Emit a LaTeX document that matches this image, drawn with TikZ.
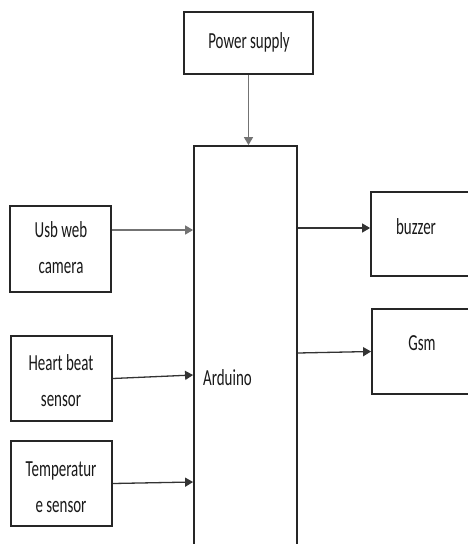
\documentclass[tikz,border=0pt]{standalone}
\usepackage{fontspec}
\newfontfamily\diagfont[FakeStretch=0.65]{Carlito}
\usetikzlibrary{arrows.meta}
\begin{document}
\begin{tikzpicture}[x=1pt,y=-1pt,
  box/.style={draw=black!85,line width=1.8pt,rectangle,inner sep=0pt},
  lbl/.style={font=\diagfont\fontsize{23}{36}\selectfont,text=black!90,align=center,inner sep=0pt},
  arr/.style={draw=black!80,line width=1.3pt,-{Triangle[length=8pt,width=9pt]}},
  garr/.style={arr,draw=black!55}]
\useasboundingbox (0,0) rectangle (468,544);
\clip (0,0) rectangle (468,544);
\fill[white] (0,0) rectangle (468,544);
% boxes
\node[box,minimum width=129pt,minimum height=62pt] (power) at (248.5,43) {};
\node[lbl] at (249,42) {Power supply};
\node[box,minimum width=103pt,minimum height=464pt] (ard) at (245.5,378) {};
\node[lbl,anchor=west] (ardt) at (203,378) {Arduino};
\node[box,minimum width=101pt,minimum height=86pt] (usb) at (60.5,249) {};
\node[lbl] at (61,248) {Usb web\\camera};
\node[box,minimum width=101pt,minimum height=85pt] (heart) at (61.5,378.5) {};
\node[lbl] at (61,381) {Heart beat\\sensor};
\node[box,minimum width=101pt,minimum height=85pt] (temp) at (61.5,483.5) {};
\node[lbl] at (61,487) {Temperatur\\e sensor};
\node[box,minimum width=110pt,minimum height=84pt] (buzz) at (426,234) {};
\node[lbl] at (416,227) {buzzer};
\node[box,minimum width=110pt,minimum height=85pt] (gsm) at (427,351.5) {};
\node[lbl] at (422,343) {Gsm};
% connectors
\draw[garr] (power.south) -- (power.south |- ard.north);
\draw[garr] ([yshift=19pt]usb.east) -- ([yshift=19pt]usb.east -| ard.west);
\draw[arr] (heart.east) -- ([yshift=3.5pt]heart.east -| ard.west);
\draw[arr] (temp.east) -- ([yshift=1.5pt]temp.east -| ard.west);
\draw[arr] ([yshift=6pt]buzz.west -| ard.east) -- ([yshift=6pt]buzz.west);
\draw[arr] ([yshift=-1.5pt]gsm.west -| ard.east) -- (gsm.west);
\end{tikzpicture}
\end{document}
